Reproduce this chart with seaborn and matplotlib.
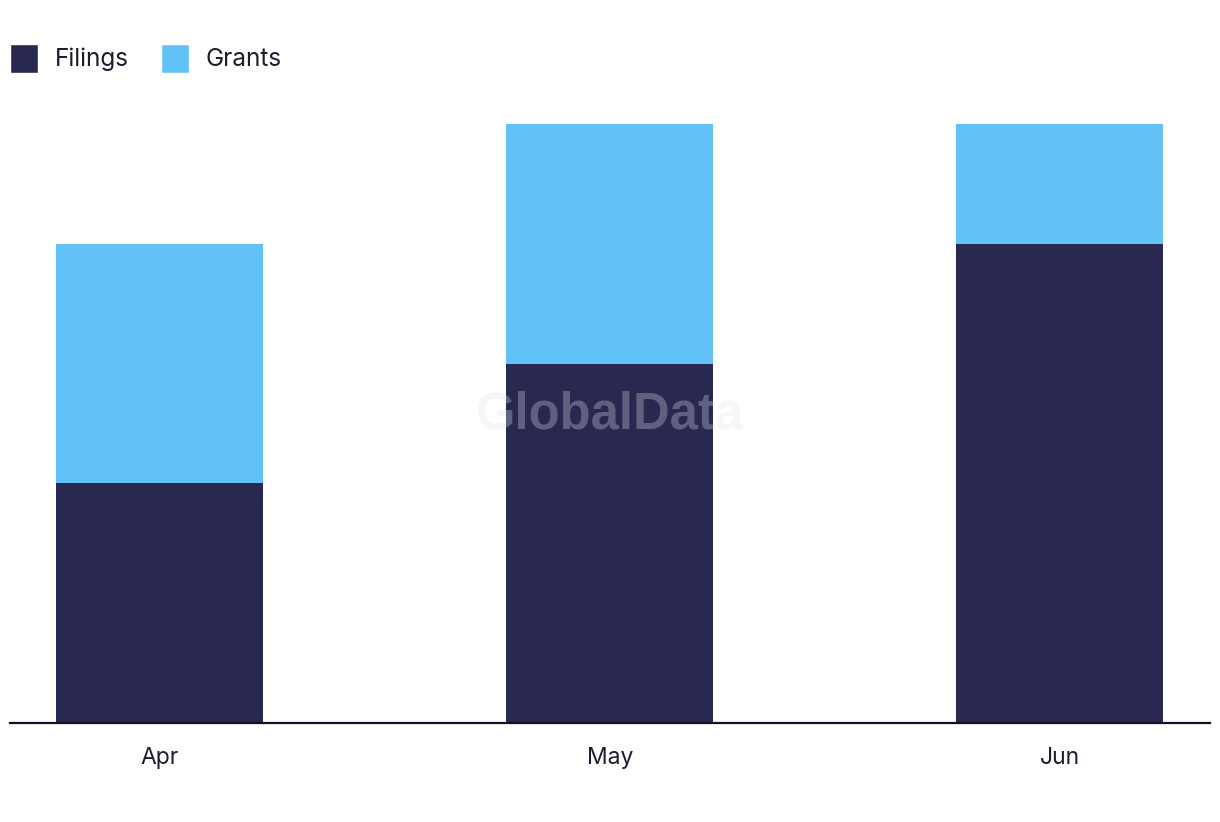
import matplotlib
matplotlib.use("Agg")
import matplotlib.pyplot as plt
import seaborn as sns
import pandas as pd
from matplotlib.patches import Patch

months = ["Apr", "May", "Jun"]
filings = [2, 3, 4]
grants = [2, 2, 1]

dark = "#282850"
light = "#62c2f8"
text_color = "#1c1c30"

sns.set_theme(style="white")
plt.rcParams["font.family"] = ["Inter", "DejaVu Sans"]

df = pd.DataFrame({"month": months, "filings": filings, "grants": grants})
df["total"] = df["filings"] + df["grants"]

fig = plt.figure(figsize=(12.2, 8.22), dpi=100)
ax = fig.add_axes([10 / 1220, (822 - 723) / 822, 1200 / 1220, (723 - 124) / 822])

sns.barplot(data=df, x="month", y="total", color=light, saturation=1, width=0.46,
            linewidth=0, edgecolor="none", ax=ax)
sns.barplot(data=df, x="month", y="filings", color=dark, saturation=1, width=0.46,
            linewidth=0, edgecolor="none", ax=ax)

ax.set_xlim(-1 / 3, 2 + 1 / 3)
ax.set_ylim(0, 5)
ax.set_xlabel("")
ax.set_ylabel("")
ax.set_yticks([])
for s in ["top", "right", "left"]:
    ax.spines[s].set_visible(False)
ax.spines["bottom"].set_color("#111122")
ax.spines["bottom"].set_linewidth(1.6)
ax.tick_params(axis="x", length=0, pad=17, labelsize=16.5, labelcolor=text_color)

ax.text(0.5, 0.515, "GlobalData", transform=ax.transAxes, ha="center", va="center",
        fontsize=36.5, fontweight="bold", color="#e4e4ec", alpha=0.3,
        family="Liberation Sans", zorder=5)

handles = [Patch(facecolor=dark, label="Filings"), Patch(facecolor=light, label="Grants")]
fig.legend(handles=handles, loc="upper left", bbox_to_anchor=(10 / 1220, 1 - 44 / 822), ncol=2,
           frameon=False, fontsize=17.5, handlelength=1.15, handleheight=1.45,
           handletextpad=0.7, columnspacing=1.3, labelcolor=text_color,
           borderpad=0, borderaxespad=0)

fig.savefig("out.png", dpi=100)
